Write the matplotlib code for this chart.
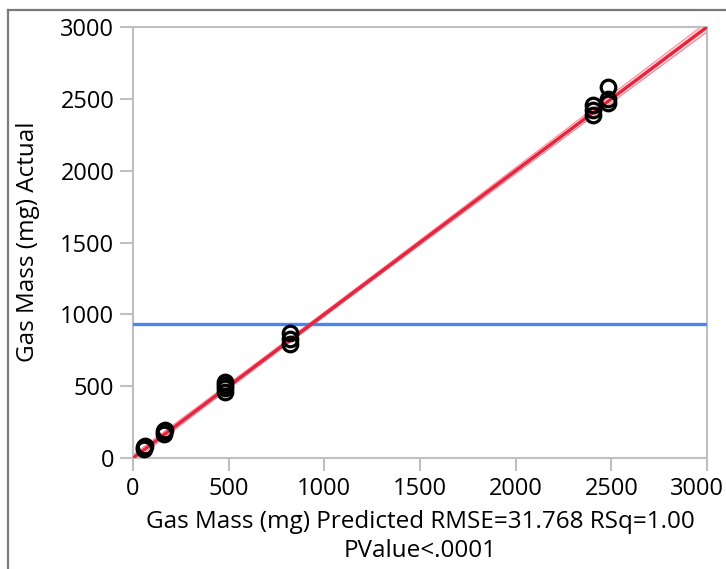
"""Actual by predicted plot for the gas mass model."""

import matplotlib.pyplot as plt
import matplotlib.transforms as mtransforms
import numpy as np
from matplotlib.lines import Line2D

plt.rcParams["font.family"] = ["Open Sans", "DejaVu Sans"]

# predicted / actual gas mass (mg), one entry per run
predicted = [55, 60, 62, 160, 162, 165, 480, 480, 481, 482,
             820, 820, 821, 2405, 2405, 2406, 2480, 2480, 2481]
actual = [60, 75, 85, 170, 185, 195, 460, 490, 510, 530,
          795, 830, 870, 2385, 2420, 2455, 2470, 2500, 2585]

rmse = 31.768
actual_mean = 930
t_crit = 2.11
axis_ticks = [0, 500, 1000, 1500, 2000, 2500, 3000]

grey = "#bfbfbf"
fsize = 17.5

fig = plt.figure(figsize=(7.26, 5.69), dpi=100)
ax = fig.add_axes([133 / 726, 1 - 458 / 569, 574 / 726, 431 / 569])

# fit line with confidence band for the mean
x_pred = np.asarray(predicted, dtype=float)
xbar = x_pred.mean()
sxx = ((x_pred - xbar) ** 2).sum()
xs = np.linspace(0, 3000, 200)
half = t_crit * rmse * np.sqrt(1 / len(x_pred) + (xs - xbar) ** 2 / sxx)
ax.fill_between(xs, xs - half, xs + half, color="#f7b3bd", alpha=0.55,
                lw=0, zorder=2)
ax.plot(xs, xs - half, color="#f28c9b", lw=0.8, zorder=2)
ax.plot(xs, xs + half, color="#f28c9b", lw=0.8, zorder=2)

ax.axhline(actual_mean, color="#4a84f6", lw=2.4, zorder=3)
ax.plot(xs, xs, color="#e8243c", lw=2.4, zorder=4)

ax.plot(predicted, actual, "o", mfc="none", mec="black", ms=10.5, mew=2.3,
        zorder=5)

ax.set_xlim(0, 3000)
ax.set_ylim(0, 3000)
ax.set_xticks(axis_ticks)
ax.set_yticks(axis_ticks)
for side in ax.spines.values():
    side.set_color(grey)
    side.set_linewidth(1.5)
ax.tick_params(length=9.5, width=1.5, color=grey, labelsize=17, pad=4)

# pull the last x label inside the canvas
last = ax.get_xticklabels()[-1]
last.set_transform(last.get_transform()
                   + mtransforms.ScaledTranslation(-0.1, 0, fig.dpi_scale_trans))

ax.set_xlabel("Gas Mass (mg) Predicted RMSE=31.768 RSq=1.00\nPValue<.0001",
              fontsize=fsize, linespacing=1.25, labelpad=7)
fig.text(28 / 726, 1 - 242 / 569, "Gas Mass (mg) Actual", rotation=90,
         ha="center", va="center", fontsize=fsize)

# outer report frame
frame_kw = dict(color="#7a7a7a", lw=1.6, transform=None)
fig.add_artist(Line2D([8, 8], [0, 569 - 10], **frame_kw))
fig.add_artist(Line2D([8, 726], [569 - 10, 569 - 10], **frame_kw))

fig.savefig("out.png", dpi=100)
